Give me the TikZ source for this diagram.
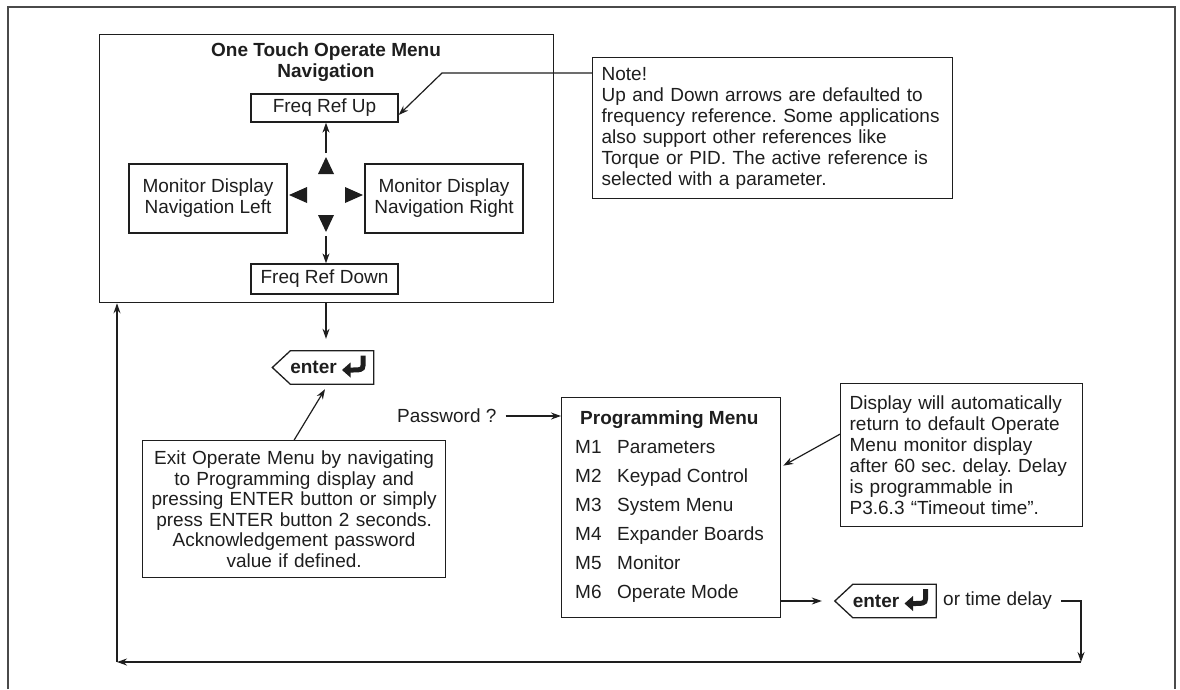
\documentclass[tikz,border=0pt]{standalone}
\usepackage{fontspec}
\setmainfont{Liberation Sans}
\usetikzlibrary{arrows.meta}
\definecolor{lc}{HTML}{1E1E1E}
\definecolor{fc}{HTML}{4A4A4A}
\tikzset{
  box/.style={draw=lc, line width=1.3pt, inner sep=0pt, align=center, text=lc},
  boxline/.style={draw=lc, line width=1.3pt},
  arr/.style={draw=lc, line width=1.2pt, -{Stealth[length=10pt,width=7pt]}},
  framestyle/.style={draw=fc, line width=1.6pt},
  txt/.style={inner sep=0pt, text=lc},
}
\newcommand\enterkey[3]{%
  \node[minimum width=101, minimum height=33, inner sep=0pt] (#1) at (#2,#3) {};
  \draw[boxline] ([xshift=18pt]#1.north west) -- (#1.north east) -- (#1.south east)
     -- ([xshift=18pt]#1.south west) -- (#1.west) -- cycle;
  \node[txt, font=\fontsize{19}{21}\selectfont\bfseries] (#1txt) at ([xshift=-9.5pt]#1.center) {enter};
  \begin{scope}[shift={(#1.center)}]
    \draw[lc, line width=5pt] (40,-12) -- (40,-2) .. controls (40,2.5) and (37,2.5) .. (27,2.5);
    \fill[lc] (27.5,-5) -- (19,2.5) -- (27.5,10) -- cycle;
  \end{scope}}
\begin{document}
\frenchspacing
\begin{tikzpicture}[x=1pt,y=-1pt,font=\fontsize{19}{21}\selectfont\frenchspacing]
\useasboundingbox (0,0) rectangle (1180,689);
% outer frame
\draw[framestyle] (8,689) -- (8,7) -- (1175,7) -- (1175,689);

% operate menu block
\node[box, minimum width=454, minimum height=268, anchor=north west] (op) at (99,34) {};
\node[txt, font=\fontsize{19}{21}\selectfont\bfseries, align=center] (title) at (326,62) {One Touch Operate Menu\\Navigation};
\node[box, minimum width=147, minimum height=28] (fup) at (324.5,108) {Freq Ref Up};
\node[box, minimum width=158, minimum height=69] (ml) at (208,198.5) {Monitor Display\\Navigation Left};
\node[box, minimum width=158, minimum height=69] (mr) at (444,198.5) {Monitor Display\\Navigation Right};
\node[box, minimum width=147, minimum height=30] (fdn) at (324.5,279) {Freq Ref Down};

% direction triangles
\fill[lc] (318,174) -- (326,157) -- (334,174) -- cycle;
\fill[lc] (307,187) -- (289,195) -- (307,203) -- cycle;
\fill[lc] (345,187) -- (363,195) -- (345,203) -- cycle;
\fill[lc] (318,215) -- (326,232) -- (334,215) -- cycle;
\coordinate (tu) at (326,153);
\coordinate (td) at (326,236);
\draw[arr] (tu) -- (tu |- fup.south);
\draw[arr] (td) -- (td |- fdn.north);

% note box
\node[box, anchor=north west, minimum height=141, text width=342, inner xsep=9pt, align=left] (note) at (592,57)
 {Note!\\Up and Down arrows are defaulted to\\frequency reference. Some applications\\also support other references like\\Torque or PID. The active reference is\\selected with a parameter.};
\coordinate (nk) at (442,73);
\draw[arr] (note.west |- nk) -- (nk) -- ([yshift=-7pt]fup.east);

% enter 1
\enterkey{e1}{323}{367.5}
\draw[arr] (op.south -| tu) -- ([yshift=12pt]e1.north -| tu);

% exit box
\node[box, anchor=north west, minimum width=303, minimum height=137, text width=291, inner xsep=6pt, align=center,
      font=\fontsize{19}{20.5}\selectfont] (exit) at (142,440)
 {Exit Operate Menu by navigating\\to Programming display and\\pressing ENTER button or simply\\press ENTER button 2 seconds.\\Acknowledgement password\\value if defined.};
\draw[arr] (exit.north) -- ([xshift=2pt,yshift=-5pt]e1.south);

% password and programming menu
\node[txt, anchor=west] (pw) at (397,416) {Password ?};
\node[box, anchor=north west, minimum width=219, minimum height=220] (prog) at (561,397) {};
\draw[arr] ([xshift=9pt]pw.east) -- (prog.west |- pw.east);
\node[txt, anchor=base west, font=\fontsize{19}{21}\selectfont\bfseries] (pt) at (580,424) {Programming Menu};
\node[txt, anchor=base west] (m1n) at (575,453) {M1};
\node[txt, anchor=base west] (m1) at (617,453) {Parameters};
\node[txt, anchor=base west] (m2n) at (575,482) {M2};
\node[txt, anchor=base west] (m2) at (617,482) {Keypad Control};
\node[txt, anchor=base west] (m3n) at (575,511) {M3};
\node[txt, anchor=base west] (m3) at (617,511) {System Menu};
\node[txt, anchor=base west] (m4n) at (575,540) {M4};
\node[txt, anchor=base west] (m4) at (617,540) {Expander Boards};
\node[txt, anchor=base west] (m5n) at (575,569) {M5};
\node[txt, anchor=base west] (m5) at (617,569) {Monitor};
\node[txt, anchor=base west] (m6n) at (575,598) {M6};
\node[txt, anchor=base west] (m6) at (617,598) {Operate Mode};

% display box
\node[box, anchor=north west, minimum height=143, text width=224, inner xsep=9pt, align=left] (disp) at (840,383)
 {Display will automatically\\return to default Operate\\Menu monitor display\\after 60 sec. delay. Delay\\is programmable in\\P3.6.3 \textquotedblleft Timeout time\textquotedblright.};
\draw[arr] ([yshift=21pt]disp.west) -- ([xshift=2pt,yshift=42pt]prog.east);

% enter 2 and return path
\enterkey{e2}{885.5}{601}
\draw[arr] (prog.east |- e2.west) -- ([xshift=-13pt]e2.west);
\node[txt, anchor=west] (otd) at (943,601) {or time delay};
\coordinate (rc) at (1081,662);
\coordinate (lc) at (117,662);
\draw[arr] ([xshift=9pt]otd.east) -| (rc);
\draw[arr] (rc) -- (lc);
\draw[arr] (lc) -- (lc |- op.south);
\end{tikzpicture}
\end{document}
